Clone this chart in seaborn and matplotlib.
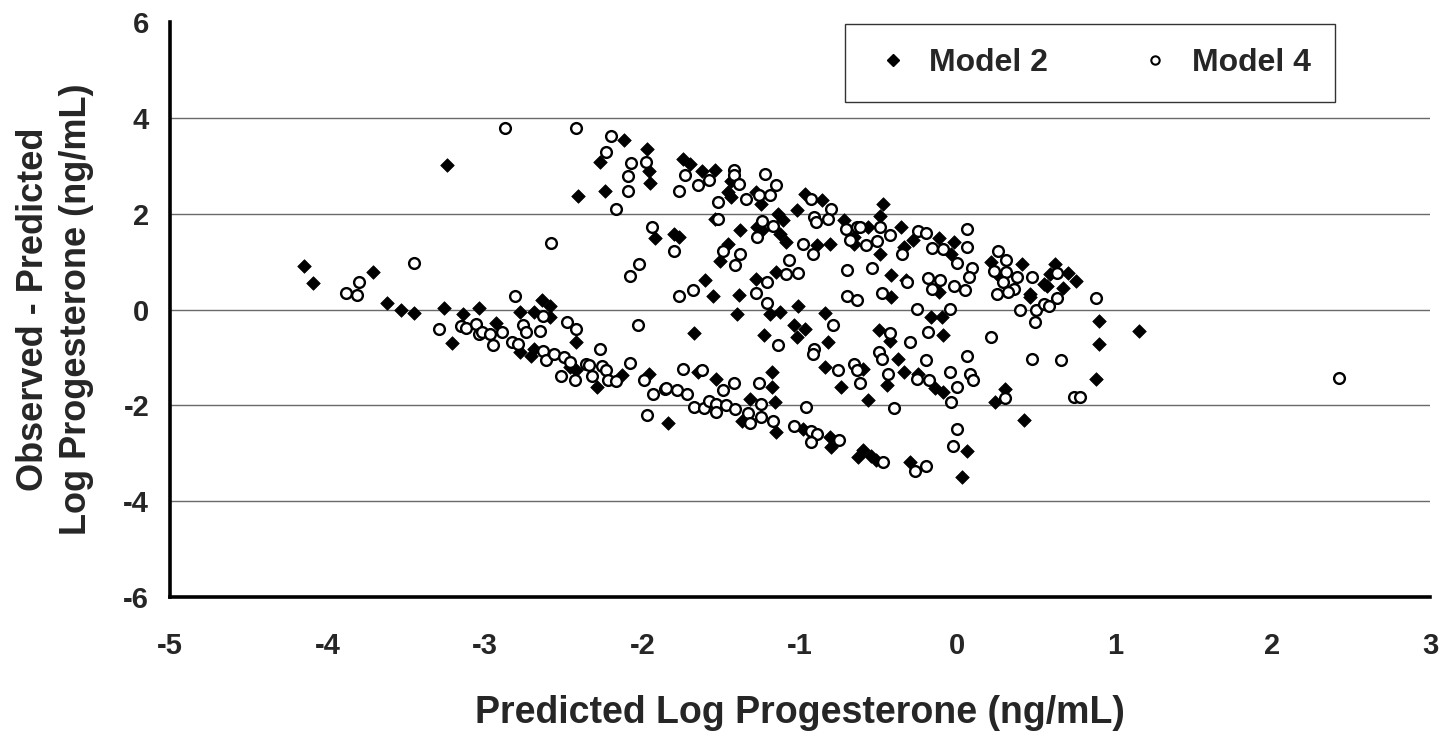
import numpy as np
import pandas as pd
import matplotlib
matplotlib.use("Agg")
import matplotlib.pyplot as plt
import seaborn as sns
from matplotlib.lines import Line2D

# ---- data ----
m2_x = [-4.15, -4.09, -3.71, -3.62, -3.53, -3.45, -3.26, -3.24, -3.21, -3.14, -3.04,
        -2.93, -2.78, -2.78, -2.71, -2.69, -2.69, -2.64, -2.59, -2.59, -2.46, -2.42, -2.42, -2.41,
        -2.29, -2.27, -2.24, -2.13, -2.12, -1.97, -1.96, -1.95, -1.96, -1.92, -1.84, -1.80, -1.77,
        -1.74, -1.70, -1.62, -1.54, -1.44, -1.46, -1.44, -1.28, -1.25, -0.97, -0.86, -1.02, -1.54,
        -1.14, -1.11, -1.27, -0.72, -1.38, -1.24, -1.13, -1.09, -0.89, -0.81, -0.66, -1.46, -1.51,
        -1.15, -1.28, -1.60, -1.55, -1.39,
        -1.40, -1.19, -1.13, -1.01, -1.04, -0.97, -1.02, -0.84, -1.67, -1.23, -0.82, -0.84, -0.74,
        -1.65, -1.53, -1.18, -1.18, -1.32, -1.16, -1.37, -1.15, -0.98, -0.81, -0.80, -0.63,
        -0.47, -0.49, -0.66, -0.57, -0.36, -0.49, -0.34, -0.28, -0.12, -0.02, -0.04, -0.42, -0.33,
        -0.12, -0.42, 0.21, 0.27, 0.41, 0.46, 0.55, 0.59,
        -0.17, -0.10, -0.50, -0.43, -0.09, -0.38, -0.60, -0.45, -0.34, -0.25, -0.14, -0.09, -0.57,
        0.24, 0.30, 0.42, 0.06, -0.60, -0.55, -0.52, -0.30, 0.03, 0.46,
        0.62, 0.70, 0.75, 0.57, 0.67, 0.90, 1.15, 0.90, 0.88]
m2_y = [0.90, 0.56, 0.79, 0.13, 0.00, -0.08, 0.03, 3.01, -0.70, -0.09, 0.03,
        -0.28, -0.06, -0.89, -0.96, -0.06, -0.82, 0.20, 0.08, -0.16, -1.20, -1.27, -0.67, 2.37,
        -1.62, 3.08, 2.48, -1.36, 3.53, 3.34, 2.88, 2.64, -1.34, 1.50, -2.37, 1.58, 1.51,
        3.15, 3.04, 2.89, 2.92, 2.69, 2.45, 2.34, 2.45, 2.21, 2.41, 2.28, 2.07, 1.89,
        2.00, 1.86, 1.72, 1.86, 1.65, 1.65, 1.58, 1.40, 1.34, 1.37, 1.37, 1.37, 1.02,
        0.78, 0.64, 0.61, 0.29, 0.31,
        -0.09, -0.10, -0.06, 0.08, -0.33, -0.40, -0.58, -0.08, -0.49, -0.54, -0.68, -1.19, -1.61,
        -1.31, -1.45, -1.31, -1.62, -1.86, -1.93, -2.32, -2.56, -2.49, -2.67, -2.87, -3.08,
        2.21, 1.96, 1.51, 1.72, 1.73, 1.15, 1.30, 1.44, 1.49, 1.41, 1.16, 0.71, 0.61,
        0.36, 0.27, 0.99, 0.67, 0.95, 0.33, 0.54, 0.75,
        -0.16, -0.15, -0.42, -0.65, -0.54, -1.03, -1.24, -1.57, -1.31, -1.34, -1.64, -1.73, -1.89,
        -1.94, -1.66, -2.30, -2.96, -2.94, -3.05, -3.15, -3.19, -3.50, 0.26,
        0.96, 0.77, 0.60, 0.50, 0.44, -0.23, -0.44, -0.71, -1.44]

m4_x = [-3.45, -3.80, -3.88, -3.81, -3.29, -3.15, -3.12, -3.06, -3.04,
        -2.87, -2.42, -2.20, -2.23, -1.98, -2.07, -2.09, -2.09, -2.17, -1.94, -2.58, -2.02, -2.08, -2.81,
        -2.63, -3.02, -2.97, -2.89, -2.95, -2.83, -2.79, -2.76, -2.74, -2.65, -2.63, -2.61, -2.56,
        -2.50, -2.48, -2.42, -2.46, -2.52, -2.43, -2.36, -2.34, -2.32, -2.27, -2.26, -2.23, -2.22,
        -2.17, -2.08, -2.03, -1.99, -1.93, -1.86, -1.97,
        -1.73, -1.65, -1.58, -1.77, -1.42, -1.42, -1.39, -1.22, -1.15, -1.52, -1.34, -1.26, -1.19,
        -0.93, -0.80, -1.52, -1.24, -1.17, -0.91, -0.90, -0.82, -0.71, -0.64, -1.80, -1.27, -0.98,
        -0.92, -0.68, -1.49, -1.38, -1.41, -1.07, -1.09, -1.01, -1.21, -0.70, -1.68, -1.77, -1.28, -0.70,
        -1.21, -0.79, -1.14, -0.91, -0.92, -0.76, -0.66, -1.74, -1.62, -1.42, -1.26, -1.49, -1.85,
        -1.78, -1.72, -1.67, -1.61, -1.58, -1.53, -1.47, -1.41, -1.53, -1.25, -1.33, -1.25, -1.32,
        -1.17, -1.04, -0.96, -0.93, -0.89, -0.93, -0.75,
        -0.62, -0.49, -0.43, -0.58, -0.51, -0.54, -0.35, -0.25, -0.20, -0.16, -0.09, 0.06, 0.06,
        0.00, 0.09, 0.07, -0.32, -0.19, -0.11, -0.16, -0.02, 0.05, -0.48, 0.26, 0.31, 0.23, 0.31,
        0.38, 0.47, 0.29, 0.36, 0.25, 0.32,
        -0.64, -0.26, -0.05, -0.43, -0.30, -0.19, 0.21, -0.50, -0.48, -0.20, 0.06, -0.64, -0.62,
        -0.44, -0.26, -0.18, -0.05, 0.08, 0.10, 0.00, -0.04, -0.40, 0.30, 0.47, 0.00, -0.03,
        -0.47, -0.20, -0.27, 0.40, 0.50, 0.49, 0.55,
        0.63, 0.63, 0.58, 0.88, 0.66, 0.74, 0.78, 2.42]
m4_y = [0.97, 0.57, 0.35, 0.31, -0.40, -0.35, -0.38, -0.30, -0.51,
        3.79, 3.79, 3.62, 3.28, 3.08, 3.05, 2.78, 2.48, 2.09, 1.72, 1.38, 0.95, 0.70, 0.28,
        -0.13, -0.47, -0.52, -0.46, -0.75, -0.67, -0.72, -0.33, -0.47, -0.45, -0.87, -1.06, -0.92,
        -1.00, -0.26, -0.40, -1.10, -1.38, -1.47, -1.13, -1.15, -1.38, -0.82, -1.17, -1.27, -1.47,
        -1.50, -1.12, -0.32, -1.48, -1.76, -1.66, -2.21,
        2.80, 2.59, 2.71, 2.47, 2.92, 2.80, 2.61, 2.82, 2.59, 2.24, 2.31, 2.38, 2.38,
        2.30, 2.10, 1.89, 1.84, 1.75, 1.93, 1.82, 1.89, 1.68, 1.72, 1.23, 1.51, 1.36,
        1.15, 1.46, 1.23, 1.15, 0.92, 1.04, 0.75, 0.76, 0.57, 0.83, 0.40, 0.29, 0.34, 0.29,
        0.13, -0.33, -0.75, -0.82, -0.93, -1.26, -1.13, -1.24, -1.26, -1.54, -1.54, -1.69, -1.64,
        -1.69, -1.77, -2.03, -2.05, -1.90, -1.97, -2.00, -2.07, -2.14, -1.97, -2.16, -2.25, -2.37,
        -2.32, -2.44, -2.03, -2.53, -2.60, -2.77, -2.73,
        1.72, 1.72, 1.56, 1.34, 1.43, 0.86, 1.15, 1.63, 1.60, 1.29, 1.27, 1.67, 1.30,
        0.97, 0.86, 0.67, 0.57, 0.66, 0.61, 0.43, 0.50, 0.40, 0.34, 1.23, 1.04, 0.81, 0.78,
        0.67, 0.67, 0.57, 0.43, 0.33, 0.36,
        0.19, 0.01, 0.01, -0.49, -0.67, -0.47, -0.58, -0.89, -1.03, -1.05, -0.96, -1.27, -1.54,
        -1.34, -1.45, -1.47, -1.31, -1.34, -1.47, -1.62, -1.94, -2.05, -1.84, -1.03, -2.49, -2.84,
        -3.19, -3.26, -3.36, -0.02, -0.02, -0.26, 0.12,
        0.77, 0.23, 0.08, 0.25, -1.06, -1.83, -1.83, -1.42]

x_ticks = [-5, -4, -3, -2, -1, 0, 1, 2, 3]
y_ticks = [-6, -4, -2, 0, 2, 4, 6]
series_names = ["Model 2", "Model 4"]
x_title = "Predicted Log Progesterone (ng/mL)"
y_title = "Observed - Predicted\nLog Progesterone (ng/mL)"

df2 = pd.DataFrame({"x": m2_x, "y": m2_y, "model": series_names[0]})
df4 = pd.DataFrame({"x": m4_x, "y": m4_y, "model": series_names[1]})

sns.set_style("white")
plt.rcParams["font.family"] = ["Liberation Sans", "DejaVu Sans"]
plt.rcParams["font.weight"] = "bold"

fig = plt.figure(figsize=(14.44, 7.40), dpi=100)
ax = fig.add_axes([0.1177, 0.1932, 0.8726, 0.7771])

sns.scatterplot(data=df2, x="x", y="y", marker="D", s=48, color="black",
                edgecolor="black", linewidth=0.5, ax=ax, zorder=3, legend=False)
sns.scatterplot(data=df4, x="x", y="y", marker="o", s=60, facecolor="white",
                edgecolor="black", linewidth=1.7, ax=ax, zorder=4, legend=False)

ax.set_xlim(-5, 3)
ax.set_ylim(-6, 6)
ax.set_xticks(x_ticks)
ax.set_yticks(y_ticks)
ax.set_xticklabels([str(v) for v in x_ticks], fontsize=21, fontweight="bold")
ax.set_yticklabels([str(v) for v in y_ticks], fontsize=21, fontweight="bold")

for v in y_ticks:
    if -6 < v < 6:
        ax.axhline(v, color="#6a6a6a", lw=1.0, zorder=1)

for side in ["top", "right"]:
    ax.spines[side].set_visible(False)
for side in ["left", "bottom"]:
    ax.spines[side].set_color("black")
    ax.spines[side].set_linewidth(2.6)
ax.tick_params(axis="both", direction="out", length=7, width=2.6, color="black")
ax.tick_params(axis="x", pad=18)
ax.tick_params(axis="y", pad=8)

ax.set_xlabel(x_title, fontsize=27, fontweight="bold")
ax.xaxis.set_label_coords(0.5, -0.17)
ax.set_ylabel(y_title, fontsize=26, fontweight="bold", linespacing=1.3)
ax.yaxis.set_label_coords(-0.060, 0.5)

handles = [Line2D([], [], marker="D", ls="", color="black", markersize=6),
           Line2D([], [], marker="o", ls="", markerfacecolor="white",
                  markeredgecolor="black", markeredgewidth=1.5, markersize=6)]
leg = ax.legend(handles, series_names, ncol=2, loc="center",
                bbox_to_anchor=(0.730, 0.929),
                frameon=True, fancybox=False, borderpad=0.75,
                handlelength=1.5, handletextpad=0.4, columnspacing=2.6,
                prop={"size": 23, "weight": "bold"})
leg.get_frame().set_edgecolor("black")
leg.get_frame().set_linewidth(1.0)

fig.savefig("out.png", dpi=100, facecolor="white")
